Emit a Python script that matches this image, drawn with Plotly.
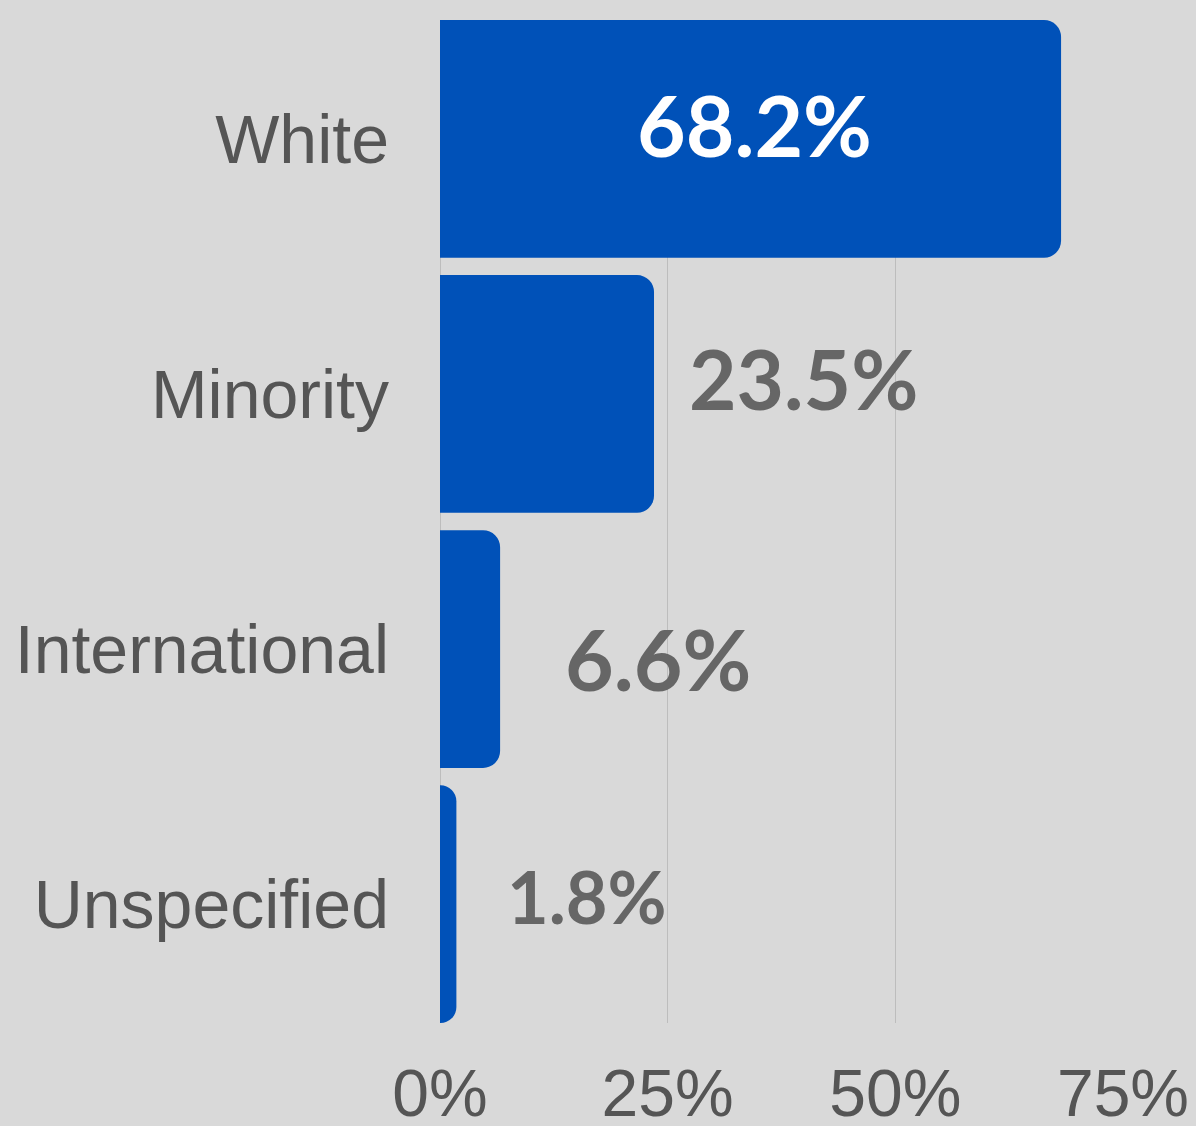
import plotly.graph_objects as go

categories = ["White", "Minority", "International", "Unspecified"]
values = [68.2, 23.5, 6.6, 1.8]
value_labels = ["68.2%", "23.5%", "6.6%", "1.8%"]
tick_vals = [0, 25, 50, 75]
tick_labels = ["0%", "25%", "50%", "75%"]

# styling for value labels (kept separate from data)
label_inside = [True, False, False, False]
label_xshift = [4, 33, 63, 49]
label_yshift = [14, 16, -9, 8]
label_size = [84, 82, 84, 72]

BAR = "#0051b8"
BG = "#d9d9d9"

fig = go.Figure()
fig.add_trace(go.Bar(
    x=values, y=categories, orientation="h",
    marker=dict(color=BAR, line=dict(width=0)),
    hoverinfo="skip",
))

for v, c, t, inside, xs, ys, sz in zip(values, categories, value_labels,
                                       label_inside, label_xshift, label_yshift, label_size):
    fig.add_annotation(
        x=v / 2 if inside else v, y=c,
        xref="x", yref="y",
        text=t, showarrow=False,
        xanchor="center" if inside else "left",
        yanchor="middle",
        xshift=xs, yshift=ys,
        font=dict(family="Lato", size=sz, color="#ffffff" if inside else "#666666",
                  weight=700),
    )

fig.update_layout(
    width=1196, height=1126,
    margin=dict(l=440, r=73, t=20, b=103, autoexpand=False),
    paper_bgcolor=BG, plot_bgcolor=BG,
    bargap=0.068,
    barcornerradius=17,
    showlegend=False,
    xaxis=dict(
        range=[0, 75], tickvals=tick_vals, ticktext=tick_labels,
        showgrid=True, gridcolor="#bdbdbd", gridwidth=1,
        zeroline=True, zerolinecolor="#bdbdbd", zerolinewidth=1,
        showline=False, ticks="", automargin=False,
        tickfont=dict(family="Liberation Sans, Arial", size=66, color="#555555"),
        ticklabelstandoff=26,
        fixedrange=True,
    ),
    yaxis=dict(
        categoryorder="array", categoryarray=categories,
        range=[3.466, -0.466],
        showgrid=False, zeroline=False, showline=False, ticks="", automargin=False,
        tickfont=dict(family="Liberation Sans, Arial", size=68, color="#555555"),
        ticklabelstandoff=50,
        fixedrange=True,
    ),
)

fig.write_html(
    "out.html",
    config={"displayModeBar": False},
    post_script="document.body.style.margin='0';document.body.style.background='#d9d9d9';",
)
